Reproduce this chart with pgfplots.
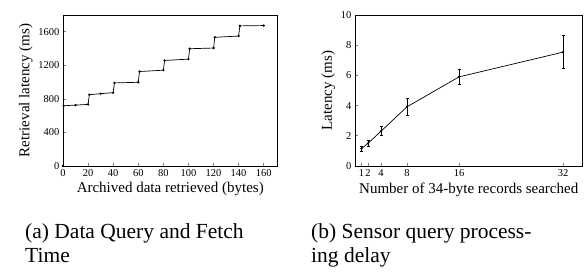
\documentclass[border=0pt]{standalone}
\usepackage{pgfplots}
\pgfplotsset{compat=1.18}
\usepackage{fontspec}
\setmainfont{Liberation Serif}
\begin{document}
\begin{tikzpicture}
\useasboundingbox (0pt,0pt) rectangle (586pt,280pt);
\pgfplotsset{
  every axis/.append style={
    scale only axis,
    axis line style={line width=0.9pt},
    tick align=inside,
    xtick pos=bottom, ytick pos=left,
    major tick length=3pt,
    tick style={line width=0.6pt},
    tick label style={font=\fontsize{10.5}{12}\selectfont},
    label style={font=\fontsize{15}{17}\selectfont},
    /pgf/number format/assume math mode=true,
    /pgf/number format/1000 sep={},
  }
}
\begin{axis}[
  at={(63pt,114pt)}, anchor=south west,
  width=214.5pt, height=151pt,
  xmin=0, xmax=171, ymin=0, ymax=1800,
  xtick={0,20,...,160}, ytick={0,400,...,1600},
  xlabel={Archived data retrieved (bytes)},
  ylabel={Retrieval latency (ms)},
  xlabel style={yshift=1pt},
  ylabel style={yshift=-1pt},
]
\addplot[black, line width=0.7pt, mark=*, mark size=0.8pt] coordinates {
(0,0) (0.5,718) (10,726) (20,734) (21,850) (30,862) (40,874) (41,990)
(60,998) (61,1126) (80,1142) (81,1258) (100,1274) (101,1398) (120,1406)
(121,1534) (140,1549) (141,1670) (160,1674)};
\end{axis}
\begin{axis}[
  at={(355pt,114pt)}, anchor=south west,
  width=227.5pt, height=151pt,
  xmin=0, xmax=35, ymin=0, ymax=10,
  xtick={1,2,4,8,16,32}, ytick={0,2,...,10},
  xlabel={Number of 34-byte records searched},
  ylabel={Latency (ms)},
  xlabel style={yshift=1pt},
  ylabel style={yshift=-1pt},
]
\addplot[black, line width=0.7pt, mark=*, mark size=0.8pt,
  error bars/.cd, y dir=both, y explicit,
  error bar style={line width=0.7pt},
  error mark options={rotate=90, mark size=1.5pt, line width=0.6pt}]
  coordinates {
(1,1.15) +- (0,0.18)
(2,1.5) +- (0,0.2)
(4,2.3) +- (0,0.3)
(8,3.92) +- (0,0.54)
(16,5.9) +- (0,0.5)
(32,7.54) +- (0,1.1)};
\end{axis}
\node[anchor=north west, align=left, inner sep=0pt,
  font=\fontsize{21.5}{24.3}\selectfont] at (25pt,57pt) {(a) Data Query and Fetch\\Time};
\node[anchor=north west, align=left, inner sep=0pt,
  font=\fontsize{21.5}{24.3}\selectfont] at (311pt,57pt) {(b) Sensor query process-\\ing delay};
\end{tikzpicture}
\end{document}
